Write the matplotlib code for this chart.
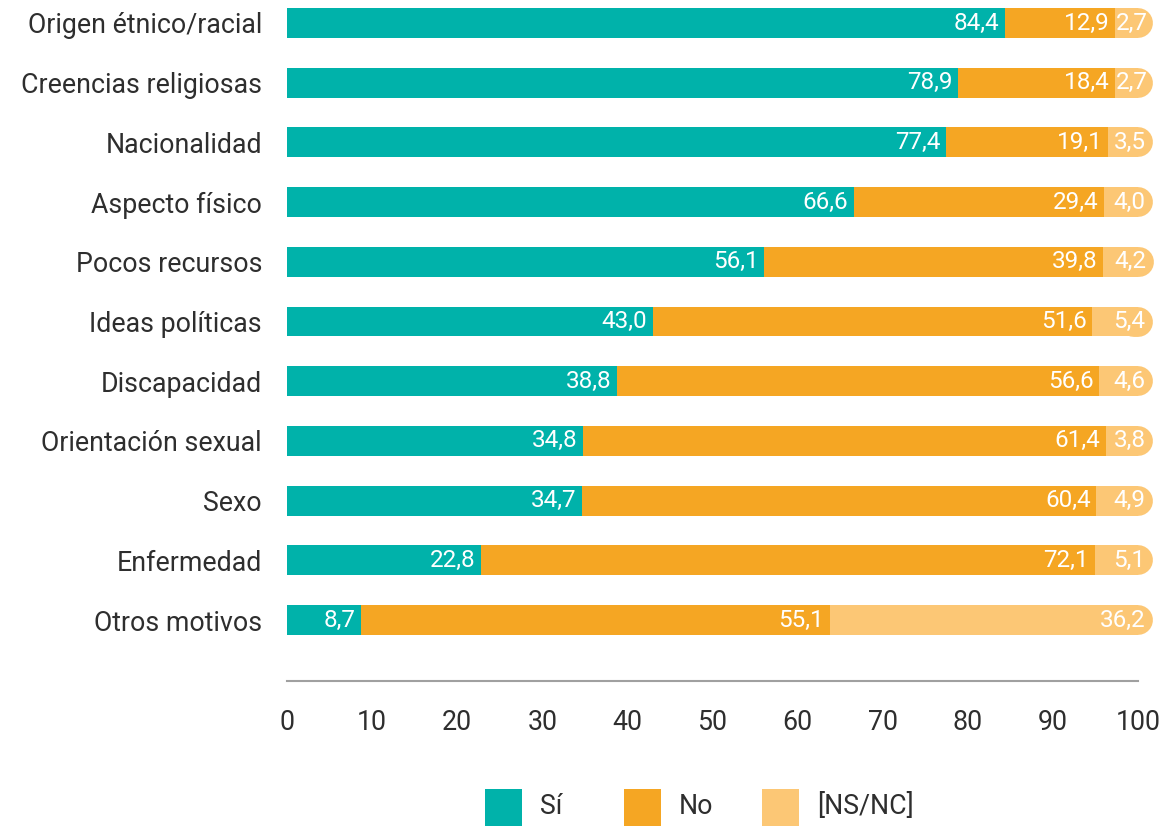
import matplotlib
matplotlib.use("Agg")
import matplotlib.pyplot as plt
from matplotlib.patches import Rectangle

plt.rcParams['font.family'] = ['Roboto', 'DejaVu Sans']

categorias = ["Origen étnico/racial", "Creencias religiosas", "Nacionalidad",
              "Aspecto físico", "Pocos recursos", "Ideas políticas",
              "Discapacidad", "Orientación sexual", "Sexo", "Enfermedad",
              "Otros motivos"]
si = [84.4, 78.9, 77.4, 66.6, 56.1, 43.0, 38.8, 34.8, 34.7, 22.8, 8.7]
no = [12.9, 18.4, 19.1, 29.4, 39.8, 51.6, 56.6, 61.4, 60.4, 72.1, 55.1]
nsnc = [2.7, 2.7, 3.5, 4.0, 4.2, 5.4, 4.6, 3.8, 4.9, 5.1, 36.2]
series_nombres = ["Sí", "No", "[NS/NC]"]
colores = ["#00B2AA", "#F5A623", "#FCC775"]

W, H = 1166, 826
fig = plt.figure(figsize=(W / 100, H / 100), dpi=100)
ax = fig.add_axes([287 / W, 1 - 681 / H, (1138 - 287) / W, 681 / H])

ypos = list(range(len(categorias)))
bar_h = 0.5
bar_pts = bar_h * (681 / (11.02 + 0.385)) * 72 / 100

def fmt(v):
    return f"{v:.1f}".replace(".", ",")

for i, y in enumerate(ypos):
    left = 0
    vals = [si[i], no[i], nsnc[i]]
    for k, v in enumerate(vals):
        ax.barh(y, v, left=left, height=bar_h, color=colores[k], zorder=3, linewidth=0)
        if k == 2:
            # rounded cap at the end of the last segment
            ax.plot([left + v - 0.5, left + v], [y, y], color=colores[k],
                    lw=bar_pts, solid_capstyle='round', zorder=2, clip_on=False)
            # narrow segments push the label a bit further into the cap
            dx = 7 if v < 3 else 5.5
            ax.annotate(fmt(v), (left + v, y), xytext=(dx, 0), textcoords='offset points',
                        ha='right', va='center', color='white', fontsize=17.5,
                        zorder=5, annotation_clip=False)
        else:
            ax.annotate(fmt(v), (left + v, y), xytext=(-4, 0), textcoords='offset points',
                        ha='right', va='center', color='white', fontsize=17.5,
                        zorder=5, annotation_clip=False)
        left += v

ax.set_xlim(0, 100)
ax.set_ylim(11.02, -0.385)
ax.set_xticks(range(0, 101, 10))
ax.set_yticks(ypos)
ax.set_yticklabels(categorias)
ax.tick_params(axis='y', length=0, pad=18, labelsize=19.3, labelcolor='#2e2e2e')
ax.tick_params(axis='x', length=0, pad=20, labelsize=19.3, labelcolor='#2e2e2e')
for s in ['top', 'right', 'left']:
    ax.spines[s].set_visible(False)
ax.spines['bottom'].set_color('#A0A0A0')
ax.spines['bottom'].set_linewidth(1.5)

# legend
leg_x = [485, 624, 762]
for x0, nombre, c in zip(leg_x, series_nombres, colores):
    fig.add_artist(Rectangle((x0 / W, 0), 37 / W, 37 / H, transform=fig.transFigure,
                             color=c, linewidth=0))
    fig.text((x0 + 55) / W, 1 - 806 / H, nombre, ha='left', va='center',
             fontsize=19.3, color='#2e2e2e')

fig.savefig("out.png", dpi=100)
